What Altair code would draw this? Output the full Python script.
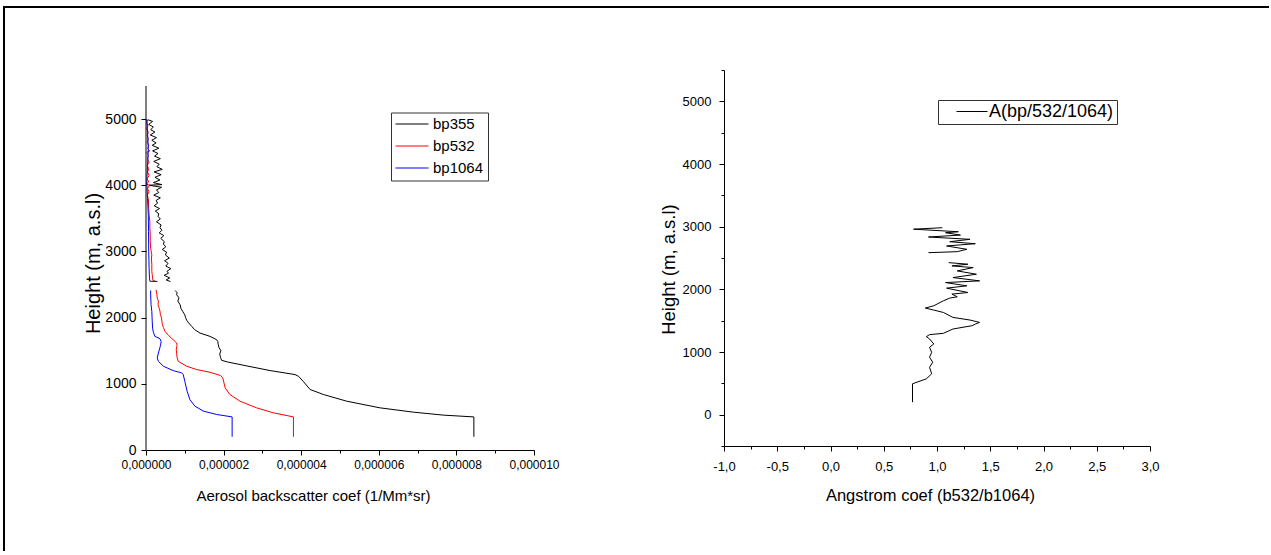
import altair as alt
import pandas as pd

# ---------------- Left panel data (backscatter in units of 1e-6) ----------------
series_names = ["bp355", "bp532", "bp1064"]
series_colors = ["black", "red", "blue"]

bp355_low_h = [200, 500, 527, 572, 637, 738, 839, 914, 1039, 1114,
               1140, 1200, 1270, 1330, 1355, 1400, 1450, 1500, 1550, 1600,
               1640, 1667, 1717, 1767, 1820, 1867, 1920, 1960, 2000, 2043,
               2090, 2140, 2194, 2250, 2300, 2345, 2380, 2410]
bp355_low_v = [8.45, 8.45, 7.66, 6.89, 6.03, 5.17, 4.57, 4.23, 4.05, 3.93,
               3.84, 3.20, 2.60, 2.10, 1.95, 1.92, 1.90, 1.93, 1.88, 1.86,
               1.85, 1.82, 1.65, 1.39, 1.25, 1.18, 1.10, 1.05, 1.02, 1.00,
               0.95, 0.90, 0.88, 0.82, 0.85, 0.79, 0.80, 0.75]
bp355_up_h = [2545, 2570, 2600, 2640, 2671, 2700, 2740, 2780, 2820, 2860,
              2900, 2947, 2990, 3030, 3070, 3110, 3150, 3198, 3240, 3280,
              3320, 3360, 3400, 3449, 3490, 3530, 3570, 3610, 3649, 3690,
              3730, 3770, 3810, 3851, 3890, 3930, 3970, 4001, 4010, 4040,
              4080, 4120, 4160, 4202, 4240, 4280, 4320, 4360, 4402, 4440,
              4480, 4520, 4560, 4604, 4640, 4680, 4720, 4760, 4804, 4840,
              4880, 4920, 4965, 4990]
bp355_up_v = [0.63, 0.52, 0.61, 0.47, 0.58, 0.54, 0.64, 0.51, 0.57, 0.48,
              0.60, 0.50, 0.53, 0.42, 0.51, 0.45, 0.47, 0.38, 0.46, 0.34,
              0.41, 0.36, 0.39, 0.27, 0.37, 0.31, 0.33, 0.24, 0.35, 0.21,
              0.30, 0.26, 0.37, 0.20, 0.33, 0.27, 0.40, 0.08, 0.41, 0.19,
              0.36, 0.23, 0.39, 0.21, 0.42, 0.28, 0.34, 0.20, 0.37, 0.22,
              0.31, 0.17, 0.33, 0.16, 0.26, 0.15, 0.27, 0.11, 0.23, 0.12,
              0.19, 0.07, 0.17, 0.05]

bp532_low_h = [200, 500, 562, 637, 738, 839, 939, 1089, 1125, 1175,
               1215, 1265, 1340, 1400, 1460, 1520, 1580, 1617, 1667, 1730,
               1792, 1850, 1900, 1993, 2050, 2100, 2143, 2200, 2250, 2294,
               2350, 2420]
bp532_low_v = [3.80, 3.80, 3.28, 2.85, 2.42, 2.16, 2.04, 1.98, 1.92, 1.65,
               1.31, 1.05, 0.83, 0.80, 0.79, 0.78, 0.80, 0.79, 0.70, 0.58,
               0.49, 0.45, 0.42, 0.40, 0.37, 0.36, 0.34, 0.31, 0.32, 0.29,
               0.28, 0.26]
bp532_up_h = [2545, 2560, 2600, 2650, 2700, 2800, 2900, 2947, 3050, 3150,
              3250, 3350, 3449, 3550, 3650, 3800, 3850, 3900, 3950, 4000,
              4020, 4050, 4100, 4150, 4200, 4250, 4300, 4350, 4400, 4450,
              4500, 4520, 4550, 4600, 4650, 4700, 4750, 4800, 4850, 4900,
              4950, 4990]
bp532_up_v = [0.29, 0.18, 0.17, 0.16, 0.15, 0.15, 0.14, 0.15, 0.12, 0.11,
              0.11, 0.10, 0.10, 0.08, 0.07, 0.06, 0.03, 0.08, 0.04, 0.09,
              0.01, 0.07, 0.03, 0.08, 0.04, 0.07, 0.03, 0.08, 0.04, 0.06,
              0.02, 0.10, 0.04, 0.07, 0.03, 0.06, 0.03, 0.06, 0.02, 0.05,
              0.02, 0.04]

bp1064_low_h = [200, 500, 537, 587, 663, 763, 889, 1039, 1140, 1165,
                1200, 1265, 1340, 1390, 1466, 1550, 1600, 1642, 1682, 1717,
                1780, 1842, 1950, 2093, 2200, 2345, 2410]
bp1064_low_v = [2.22, 2.22, 1.82, 1.48, 1.26, 1.13, 1.06, 1.00, 0.96, 0.92,
                0.70, 0.45, 0.32, 0.29, 0.32, 0.36, 0.38, 0.39, 0.36, 0.23,
                0.19, 0.17, 0.16, 0.15, 0.13, 0.12, 0.12]
bp1064_up_h = [2545, 2550, 2600, 2746, 3000, 3300, 3549, 3800, 4051, 4300,
               4553, 4800, 4990]
bp1064_up_v = [0.29, 0.10, 0.09, 0.08, 0.07, 0.065, 0.06, 0.04, 0.02, 0.04,
               0.06, 0.04, 0.02]

# ---------------- Right panel data (Angstrom coefficient) ----------------
ang_name = "A(bp/532/1064)"
ang_low_h = [200, 493, 572, 652, 757, 837, 916, 995, 1075, 1128,
             1208, 1245, 1277, 1298, 1367, 1420, 1446, 1472, 1510, 1552,
             1631, 1669, 1701, 1738, 1817, 1860, 1881, 1924, 1949, 2019,
             2056, 2108, 2135, 2188, 2241, 2294, 2347, 2374, 2401, 2426]
ang_low_v = [0.77, 0.77, 0.90, 0.95, 0.93, 0.96, 0.93, 0.95, 0.93, 0.97,
             0.93, 0.90, 0.93, 1.06, 1.15, 1.33, 1.36, 1.40, 1.31, 1.15,
             1.06, 0.97, 0.89, 0.97, 1.06, 1.12, 1.19, 1.14, 1.29, 1.09,
             1.28, 1.08, 1.40, 1.15, 1.37, 1.19, 1.34, 1.14, 1.29, 1.11]
ang_up_h = [2585, 2601, 2639, 2692, 2728, 2760, 2798, 2835, 2866, 2903,
            2919, 2960, 2983]
ang_up_v = [0.92, 1.19, 1.28, 1.09, 1.36, 1.12, 1.31, 0.92, 1.22, 1.08,
            1.20, 0.78, 1.05]

# tick positions / labels
left_x_ticks = [i * 1e-6 for i in range(11)]
left_y_ticks = list(range(0, 5501, 500))
right_x_ticks = [-1 + 0.25 * i for i in range(17)]
right_y_ticks = list(range(-500, 5501, 500))

FONT = "Liberation Sans"

# plot geometry (styles)
LEFT_W, LEFT_AXIS_H, LEFT_EXTRA = 388, 364, 16
RIGHT_W, RIGHT_H = 426, 376
LEFT_H = LEFT_AXIS_H + LEFT_EXTRA
LEFT_TOP = 5500 * LEFT_H / LEFT_AXIS_H  # top of left scale so 5500 sits LEFT_EXTRA px below

# ---------------- build tables ----------------
rows = []
def add(series, seg, hs, vs, scale=1e-6):
    for i, (h, v) in enumerate(zip(hs, vs)):
        rows.append({"series": series, "seg": f"{series}-{seg}", "idx": i,
                     "height": h, "val": v * scale})

add("bp355", "low", bp355_low_h, bp355_low_v)
add("bp355", "up", bp355_up_h, bp355_up_v)
add("bp532", "low", bp532_low_h, bp532_low_v)
add("bp532", "up", bp532_up_h, bp532_up_v)
add("bp1064", "low", bp1064_low_h, bp1064_low_v)
add("bp1064", "up", bp1064_up_h, bp1064_up_v)
df_left = pd.DataFrame(rows)

rows = []
add(ang_name, "low", ang_low_h, ang_low_v, scale=1.0)
add(ang_name, "up", ang_up_h, ang_up_v, scale=1.0)
df_right = pd.DataFrame(rows)

one = pd.DataFrame({"k": [0]})

def tick_size(test):
    return {"condition": {"test": test, "value": 5}, "value": 3}

common_axis = dict(grid=False, domainColor="black", tickColor="black",
                   labelColor="black", titleColor="black", labelFont=FONT,
                   titleFont=FONT, titleFontWeight="normal", labelOverlap=False,
                   labelFlush=False, domainWidth=1, tickWidth=1)

# ---------------- left panel ----------------
lx_major = "round(datum.value * 1e6) % 2 == 0"
x_axis_left = alt.Axis(
    values=left_x_ticks,
    labelExpr=f"{lx_major} ? replace(format(datum.value, '.6f'), '.', ',') : ''",
    tickSize=tick_size(lx_major), labelFontSize=12, labelPadding=4,
    titleFontSize=15, titleX=167, titleY=50, titleBaseline="alphabetic",
    **common_axis)
ly_major = "datum.value % 1000 == 0"
y_axis_left = alt.Axis(
    values=left_y_ticks, domain=False,
    labelExpr=f"{ly_major} && datum.value <= 5000 ? format(datum.value, 'd') : ''",
    tickSize=tick_size(ly_major), labelFontSize=14, labelPadding=5,
    titleFontSize=20, titleX=-47, titleY=193, titleBaseline="alphabetic",
    **common_axis)

left_lines = alt.Chart(df_left).mark_line(strokeWidth=1).encode(
    x=alt.X("val:Q", title="Aerosol backscatter coef (1/Mm*sr)",
            scale=alt.Scale(domain=[0, 1e-5], nice=False, zero=False), axis=x_axis_left),
    y=alt.Y("height:Q", title="Height (m, a.s.l)",
            scale=alt.Scale(domain=[0, LEFT_TOP], nice=False), axis=y_axis_left),
    color=alt.Color("series:N", scale=alt.Scale(domain=series_names, range=series_colors),
                    legend=alt.Legend(title=None, orient="none", legendX=245, legendY=42.5,
                                      strokeColor="#333333", fillColor="white", padding=4,
                                      symbolType="stroke", symbolSize=1089,
                                      symbolStrokeWidth=1, labelFontSize=15,
                                      labelFont=FONT, labelColor="black",
                                      labelOffset=4, rowPadding=6, clipHeight=15)),
    detail="seg:N",
    order="idx:Q",
)

# left y-axis line drawn only up to 5500 through the y scale
left_axis_line = alt.Chart(one).mark_rule(color="black", strokeWidth=1).encode(
    x=alt.value(0), y=alt.datum(0), y2=alt.datum(5500))

frame_top_l = alt.Chart(one).mark_rule(color="black", strokeWidth=2).encode(
    x=alt.value(-142), x2=alt.value(452), y=alt.value(-63))
frame_side_l = alt.Chart(one).mark_rule(color="black", strokeWidth=2).encode(
    x=alt.value(-142), y=alt.value(-64), y2=alt.value(481))

left = alt.layer(left_lines, left_axis_line, frame_top_l, frame_side_l).properties(
    width=LEFT_W, height=LEFT_H)

# ---------------- right panel ----------------
rx_major = "abs(datum.value * 2 - round(datum.value * 2)) < 1e-6"
x_axis_right = alt.Axis(
    values=right_x_ticks,
    labelExpr=f"{rx_major} ? (datum.value < 0 ? '-' : '') + replace(format(abs(datum.value), '.1f'), '.', ',') : ''",
    tickSize=tick_size(rx_major), labelFontSize=13, labelPadding=9,
    titleFontSize=16.5, titleX=206, titleY=54, titleBaseline="alphabetic",
    **common_axis)
ry_major = "datum.value % 1000 == 0 && datum.value >= 0"
y_axis_right = alt.Axis(
    values=right_y_ticks,
    labelExpr=f"{ry_major} ? format(datum.value, 'd') : ''",
    tickSize=tick_size(ry_major), labelFontSize=13, labelPadding=8,
    titleFontSize=18.5, titleX=-50, titleY=199, titleBaseline="alphabetic",
    **common_axis)

right_lines = alt.Chart(df_right).mark_line(strokeWidth=1).encode(
    x=alt.X("val:Q", title="Angstrom coef (b532/b1064)",
            scale=alt.Scale(domain=[-1, 3], nice=False, zero=False), axis=x_axis_right),
    y=alt.Y("height:Q", title="Height (m, a.s.l)",
            scale=alt.Scale(domain=[-500, 5500], nice=False), axis=y_axis_right),
    color=alt.Color("series:N", scale=alt.Scale(domain=[ang_name], range=["black"]),
                    legend=alt.Legend(title=None, orient="none", legendX=214, legendY=30,
                                      strokeColor="#333333", fillColor="white", padding=3,
                                      symbolType="stroke", symbolSize=961,
                                      symbolStrokeWidth=1, symbolOffset=15,
                                      labelFontSize=18, labelFont=FONT,
                                      labelColor="black", labelOffset=1, clipHeight=17)),
    detail="seg:N",
    order="idx:Q",
)

# top frame continues from where the left panel's piece ends (overlapping it)
frame_top_r = alt.Chart(one).mark_rule(color="black", strokeWidth=2).encode(
    x=alt.value(-164), x2=alt.value(545), y=alt.value(-63))

right = alt.layer(right_lines, frame_top_r).properties(width=RIGHT_W, height=RIGHT_H)

chart = (
    alt.hconcat(left, right, spacing=-40)
    .resolve_scale(color="independent")
    .resolve_legend(color="independent")
    .properties(padding={"left": 3, "top": 5, "right": 0, "bottom": 0}, background="white")
    .configure(font=FONT)
    .configure_view(stroke="transparent", strokeWidth=0)
)

chart.save("out.html", embed_options={"renderer": "svg", "actions": False})
